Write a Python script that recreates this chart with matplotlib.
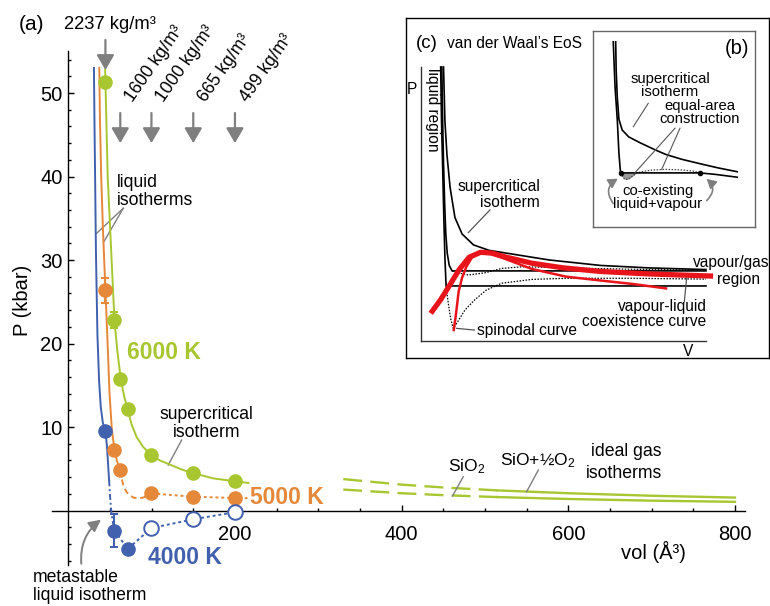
import numpy as np
import matplotlib.pyplot as plt
from matplotlib.patches import FancyArrowPatch

plt.rcParams['font.family'] = ['Liberation Sans', 'DejaVu Sans']
plt.rcParams['mathtext.fontset'] = 'custom'
plt.rcParams['mathtext.rm'] = 'Liberation Sans'
plt.rcParams['mathtext.it'] = 'Liberation Sans:italic'
plt.rcParams['mathtext.bf'] = 'Liberation Sans:bold'
plt.rcParams['mathtext.default'] = 'regular'

GREEN = '#A7C630'
ORANGE = '#E5883A'
BLUE = '#4160AD'
RED = '#E8141B'
GREY = '#7F7F7F'

#############################################################################
# data (a): simulation points, vol in A^3, P in kbar
#############################################################################
vol_6000 = [44.6, 55.4, 62.4, 71.3, 99.8, 150.0, 200.0]
P_6000 = [51.3, 22.8, 15.8, 12.1, 6.6, 4.5, 3.5]

vol_5000 = [44.6, 55.4, 62.4, 99.8, 150.0, 200.0]
P_5000 = [26.4, 7.3, 4.85, 2.05, 1.65, 1.5]

vol_4000 = [44.6, 55.4, 71.3]
P_4000 = [9.5, -2.4, -4.6]
vol_4000_open = [99.8, 150.0, 200.0]
P_4000_open = [-2.1, -1.05, -0.2]

# error bars (vol, P, err)
err_6000 = ([55.4], [22.8], [1.0])
err_5000 = ([44.6], [26.4], [1.5])
err_4000 = ([55.4], [-2.4], [2.0])

# fitted isotherms
green_v = [44.3, 44.6, 47.3, 52.0, 55.4, 58.8, 62.9, 67.0, 71.3, 76.0, 82.0,
           90.0, 99.8, 110.0, 122.0, 135.0, 148.8, 174.0, 200.0, 216.0]
green_p = [52.8, 51.3, 40.0, 30.0, 22.8, 19.2, 15.8, 13.7, 12.1, 10.3, 8.8,
           7.6, 6.6, 6.0, 5.5, 4.95, 4.5, 3.85, 3.5, 3.3]

orange_v = [37.2, 38.0, 39.5, 41.5, 43.3, 44.6, 46.0, 47.6, 49.5, 52.3, 55.4, 58.5, 62.4]
orange_p = [53.0, 47.0, 40.0, 34.0, 29.5, 26.4, 23.0, 19.0, 14.0, 9.7, 7.3, 5.9, 4.85]
orange_dash_v = [62.4, 64.0, 66.5, 70.0, 74.0, 78.0, 84.0, 90.0, 99.8]
orange_dash_p = [4.85, 3.85, 2.9, 2.2, 1.85, 1.55, 1.45, 1.55, 2.05]
orange_dot_v = [99.8, 150.0, 200.0, 216.0]
orange_dot_p = [2.05, 1.65, 1.5, 1.48]

blue_v = [30.8, 31.5, 32.2, 33.2, 35.0, 37.0, 39.0, 41.5, 44.6, 46.5, 49.0]
blue_p = [53.0, 46.0, 40.0, 31.0, 21.0, 15.5, 12.4, 10.5, 9.5, 7.6, 3.6]
blue_dash_v = [49.0, 50.5, 52.0, 55.4]
blue_dash_p = [3.6, 1.2, -0.5, -2.4]
blue_dot_v = [55.4, 71.3, 99.8, 150.0, 200.0]
blue_dot_p = [-2.4, -4.6, -2.1, -1.05, -0.2]

# ideal gas isotherms at 6000 K
ideal_v = [330, 400, 450, 515, 600, 700, 800]
ideal_SiO_O2 = [3.76, 3.1, 2.76, 2.41, 2.07, 1.77, 1.55]
ideal_SiO2 = [2.51, 2.07, 1.84, 1.61, 1.38, 1.18, 1.04]

densities = [2237, 1600, 1000, 665, 499]
density_vols = [44.6, 62.4, 99.8, 150.0, 200.0]

#############################################################################
# data (c) and (b): schematic curves, arbitrary V / P units
#############################################################################
c_super_v = [0.80, 0.85, 0.92, 1.03, 1.20, 1.45, 1.85, 2.4, 3.3, 4.5, 6.3, 8.0, 10.0]
c_super_p = [10.0, 8.0, 6.8, 5.6, 4.5, 3.9, 3.5, 3.3, 3.15, 2.95, 2.75, 2.66, 2.6]
c_mid_v = [0.74, 0.77, 0.80, 0.84, 0.88, 0.93, 1.0, 1.1, 10.0]
c_mid_p = [10.0, 8.0, 6.5, 5.0, 3.9, 3.2, 2.75, 2.55, 2.55]
c_low_v = [0.70, 0.73, 0.77, 0.81, 0.85, 0.89, 10.0]
c_low_p = [10.0, 8.0, 6.3, 4.5, 3.0, 2.0, 2.0]
c_loop_low_v = [0.89, 0.97, 1.05, 1.14, 1.3, 1.55, 1.9, 2.3, 2.84, 3.9, 5.1, 7.5, 10.0]
c_loop_low_p = [2.0, 1.35, 0.8, 0.45, 0.7, 1.12, 1.5, 1.85, 2.1, 2.24, 2.28, 2.28, 2.25]
c_loop_mid_v = [1.1, 1.3, 1.67, 2.25, 2.84, 3.54, 4.5, 6.0, 8.0, 10.0]
c_loop_mid_p = [2.55, 2.48, 2.40, 2.48, 2.64, 2.70, 2.68, 2.64, 2.60, 2.58]
binodal_v = [0.35, 0.7, 1.0, 1.35, 1.7, 2.1, 2.5, 3.0, 3.9, 5.0, 6.3, 8.0, 10.25]
binodal_p = [1.0, 1.5, 2.0, 2.6, 3.05, 3.23, 3.2, 3.05, 2.83, 2.66, 2.53, 2.44, 2.36]
spinodal_v = [1.16, 1.24, 1.33, 1.45, 1.6, 1.8, 2.05, 2.3, 2.8, 3.9, 5.1, 6.3, 7.45, 8.6]
spinodal_p = [0.39, 1.0, 1.8, 2.3, 2.7, 3.05, 3.22, 3.22, 3.05, 2.62, 2.34, 2.2, 2.07, 1.91]

b_super_v = [1.40, 1.43, 1.5, 1.6, 1.8, 2.2, 2.9, 3.8, 4.5, 5.5, 6.5, 7.7, 8.9]
b_super_p = [9.45, 8.0, 6.6, 5.5, 4.95, 4.6, 4.3, 3.95, 3.7, 3.45, 3.25, 3.02, 2.82]
b_sub_v = [1.25, 1.36, 1.5, 1.6, 1.70, 6.6, 7.6, 8.9]
b_sub_p = [9.45, 7.16, 5.46, 3.76, 2.76, 2.76, 2.68, 2.54]
b_loop_v = [1.70, 1.85, 2.0, 2.2, 2.45, 2.7, 3.1, 3.6, 4.5, 5.5, 6.2, 6.6]
b_loop_p = [2.76, 2.52, 2.42, 2.45, 2.6, 2.76, 2.84, 2.9, 2.94, 2.91, 2.85, 2.76]
b_coexist_v = [1.70, 6.6]
b_coexist_p = [2.76, 2.76]

#############################################################################
# main panel (a)
#############################################################################
fig = plt.figure(figsize=(7.7, 6.06), dpi=100)
ax = fig.add_axes([0.06701, 0.06799, 0.9005, 0.84744])
ax.set_xlim(-20, 812)
ax.set_ylim(-6.5, 55)
ax.spines['left'].set_position(('data', 0))
ax.spines['bottom'].set_position(('data', 0))
ax.spines['top'].set_visible(False)
ax.spines['right'].set_visible(False)
for s in ('left', 'bottom'):
    ax.spines[s].set_linewidth(1.0)

ax.set_xticks([200, 400, 600, 800])
ax.set_xticks([v for v in range(50, 800, 50) if v % 200], minor=True)
ax.set_yticks([10, 20, 30, 40, 50])
ax.set_yticks([v for v in range(-6, 55, 2) if v % 10], minor=True)
ax.tick_params(which='both', direction='in', width=1.0, labelsize=14.5)
ax.tick_params(which='major', length=4.5)
ax.tick_params(which='minor', length=2.5)
ax.tick_params(axis='x', pad=10.5)
ax.tick_params(axis='y', pad=4)

ax.text(702, -5.0, 'vol (Å³)', fontsize=14.5, ha='center', va='center')
ax.text(-0.0418, 0.5147, 'P (kbar)', fontsize=14.5, rotation=90,
        ha='center', va='center', transform=ax.transAxes)
fig.text(31 / 770, 1 - 25 / 606, '(a)', fontsize=15, ha='center', va='center')

# isotherm curves
lw = 1.4
ax.plot(green_v, green_p, color=GREEN, lw=lw, zorder=3)
ax.plot(orange_v, orange_p, color=ORANGE, lw=lw, zorder=3)
ax.plot(orange_dash_v, orange_dash_p, color=ORANGE, lw=lw, ls=(0, (3, 2)), zorder=3)
ax.plot(orange_dot_v, orange_dot_p, color=ORANGE, lw=lw, ls=(0, (1.5, 1.5)), zorder=3)
ax.plot(blue_v, blue_p, color=BLUE, lw=lw, zorder=3)
ax.plot(blue_dash_v, blue_dash_p, color=BLUE, lw=lw, ls=(0, (3, 1.5, 1, 1.5)), zorder=3)
ax.plot(blue_dot_v, blue_dot_p, color=BLUE, lw=lw, ls=(0, (1.5, 1.5)), zorder=3)

# ideal gas isotherms: dashed below 515, solid above
ax.plot(ideal_v[:4], ideal_SiO_O2[:4], color=GREEN, lw=1.7, ls=(0, (8, 3.5)))
ax.plot(ideal_v[:4], ideal_SiO2[:4], color=GREEN, lw=1.7, ls=(0, (8, 3.5)))
ax.plot(ideal_v[3:], ideal_SiO_O2[3:], color=GREEN, lw=1.7)
ax.plot(ideal_v[3:], ideal_SiO2[3:], color=GREEN, lw=1.7)

# error bars and points
for (ev, ep, ee), col in ((err_6000, GREEN), (err_5000, ORANGE), (err_4000, BLUE)):
    ax.errorbar(ev, ep, yerr=ee, fmt='none', ecolor=col, elinewidth=1.5,
                capsize=3, capthick=1.5, zorder=4)
ax.plot(vol_6000, P_6000, 'o', color=GREEN, ms=10.5, mec='none', zorder=5)
ax.plot(vol_5000, P_5000, 'o', color=ORANGE, ms=10.5, mec='none', zorder=5)
ax.plot(vol_4000, P_4000, 'o', color=BLUE, ms=10.5, mec='none', zorder=5)
ax.plot(vol_4000_open, P_4000_open, 'o', mfc='white', mec=BLUE, mew=1.4, ms=10.5, zorder=5)

# temperature labels
ax.text(70, 18.9, '6000 K', color=GREEN, fontsize=16.5, fontweight='bold', va='center')
ax.text(218, 1.6, '5000 K', color=ORANGE, fontsize=16.5, fontweight='bold', va='center')
ax.text(96, -5.6, '4000 K', color=BLUE, fontsize=16.5, fontweight='bold', va='center')

# density arrows
head = '-|>,head_length=0.65,head_width=0.38'
ax.annotate('', xy=(density_vols[0], 52.75), xytext=(density_vols[0], 56.35),
            arrowprops=dict(arrowstyle=head, color=GREY, lw=1.6, shrinkA=0, shrinkB=0,
                            mutation_scale=14), annotation_clip=False)
ax.text(50, 58.2, '%d kg/m³' % densities[0], fontsize=13.2, ha='center', va='center')
for v, d in zip(density_vols[1:], densities[1:]):
    ax.annotate('', xy=(v, 44.0), xytext=(v, 47.6),
                arrowprops=dict(arrowstyle=head, color=GREY, lw=1.6, shrinkA=0, shrinkB=0,
                                mutation_scale=14), annotation_clip=False)
    ax.text(v + 2.5, 48.6, '%d kg/m³' % d, fontsize=12.7, rotation=55,
            ha='left', va='bottom')

# annotations
fs = 12.7
ax.text(58, 38.2, 'liquid\nisotherms', fontsize=fs, ha='left', va='center', linespacing=1.05)
ax.plot([66, 34.1], [36.2, 33.2], color=GREY, lw=1)
ax.plot([66, 42.8], [36.2, 32.2], color=GREY, lw=1)
ax.text(165.5, 10.4, 'supercritical\nisotherm', fontsize=fs, ha='center', va='center',
        linespacing=1.05)
ax.plot([136, 120], [8.44, 5.45], color=GREY, lw=1)
ax.text(-42, -9.1, 'metastable\nliquid isotherm', fontsize=fs, ha='left', va='center',
        linespacing=1.05)
ax.add_patch(FancyArrowPatch((16, -6.7), (42, -0.9), connectionstyle='arc3,rad=-0.3',
                             arrowstyle='-|>,head_length=0.6,head_width=0.3',
                             mutation_scale=12, color=GREY, lw=1.4, clip_on=False))
ax.text(456, 5.3, 'SiO$_2$', fontsize=12.5, ha='left', va='center')
ax.plot([474, 461], [4.05, 1.74], color=GREY, lw=1)
ax.text(518, 6.0, 'SiO+½O$_2$', fontsize=12.5, ha='left', va='center')
ax.plot([564, 550], [4.85, 2.25], color=GREY, lw=1)
ax.text(712, 5.75, 'ideal gas\nisotherms', fontsize=fs, ha='right', va='center',
        linespacing=1.4)

#############################################################################
# inset (c): van der Waals schematic
#############################################################################
cbox = fig.add_axes([406 / 770, 1 - 358 / 606, 363 / 770, 340 / 606])
cbox.set_xticks([])
cbox.set_yticks([])
for s in cbox.spines.values():
    s.set_linewidth(1.0)

cax = fig.add_axes([420.7 / 770, 1 - 340.7 / 606, 285.3 / 770, 273.7 / 606])
cax.set_facecolor('none')
cax.set_xlim(0, 10)
cax.set_ylim(0, 10)
cax.set_xticks([])
cax.set_yticks([])
cax.spines['top'].set_visible(False)
cax.spines['right'].set_visible(False)
for s in ('left', 'bottom'):
    cax.spines[s].set_color('#333333')
    cax.spines[s].set_linewidth(1.0)

dot = (0, (1.2, 1.2))
cax.plot(c_loop_low_v, c_loop_low_p, color='k', lw=0.9, ls=dot, clip_on=False)
cax.plot(c_loop_mid_v, c_loop_mid_p, color='k', lw=0.9, ls=dot, clip_on=False)
cax.plot(c_low_v, c_low_p, color='k', lw=1.2, clip_on=False)
cax.plot(c_mid_v, c_mid_p, color='k', lw=1.2, clip_on=False)
cax.plot(c_super_v, c_super_p, color='k', lw=1.2, clip_on=False)
cax.plot(spinodal_v, spinodal_p, color=RED, lw=1.8, clip_on=False)
cax.plot(binodal_v, binodal_p, color=RED, lw=3.8, clip_on=False, solid_capstyle='butt')

cfs = 11.2
cax.text(-0.16, 10.87, '(c)', fontsize=13.5, ha='left', va='center')
cax.text(0.91, 10.87, 'van der Waal’s EoS', fontsize=cfs, ha='left', va='center')
cax.text(-0.32, 9.16, 'P', fontsize=cfs, ha='center', va='center')
cax.text(9.37, -0.38, 'V', fontsize=cfs, ha='center', va='center')
cax.text(0.41, 9.95, 'liquid region', fontsize=cfs, rotation=270, ha='center', va='top')
cax.text(4.18, 5.33, 'supercritical\nisotherm', fontsize=cfs, ha='right', va='center',
         linespacing=1.07)
cax.plot([2.43, 1.67], [4.78, 3.95], color='#555555', lw=0.9)
cax.text(9.55, 2.84, 'vapour/gas', fontsize=cfs, ha='left', va='center')
cax.text(10.39, 2.22, 'region', fontsize=cfs, ha='left', va='center')
cax.text(10.02, 0.96, 'vapour-liquid\ncoexistence curve', fontsize=cfs, ha='right',
         va='center', linespacing=1.0)
cax.plot([9.32, 9.24], [2.28, 1.42], color='#555555', lw=0.9, clip_on=False)
cax.text(1.96, 0.39, 'spinodal curve', fontsize=cfs, ha='left', va='center')
cax.plot([1.26, 1.88], [0.45, 0.39], color='#555555', lw=0.9)

#############################################################################
# inset (b): equal-area construction
#############################################################################
bax = fig.add_axes([593 / 770, 1 - 227 / 606, 162 / 770, 196 / 606])
bax.set_xlim(0, 10)
bax.set_ylim(0, 10)
bax.set_xticks([])
bax.set_yticks([])
for s in bax.spines.values():
    s.set_color('#666666')
    s.set_linewidth(1.0)

bax.fill_between(b_loop_v[:6], b_loop_p[:6], b_coexist_p[0], color='#999999', lw=0)
bax.plot(b_loop_v, b_loop_p, color='#444444', lw=0.9, ls=dot)
bax.plot(b_sub_v, b_sub_p, color='k', lw=1.2)
bax.plot(b_super_v, b_super_p, color='k', lw=1.2)
bax.plot(b_coexist_v, b_coexist_p, 'o', color='k', ms=3)

bfs = 10.7
bax.text(8.89, 9.13, '(b)', fontsize=14.5, ha='center', va='center')
bax.text(4.75, 7.22, 'supercritical\nisotherm', fontsize=bfs, ha='center', va='center',
         linespacing=0.95)
bax.plot([3.41, 2.49], [6.31, 5.12], color='#555555', lw=0.8)
bax.text(6.6, 5.84, 'equal-area\nconstruction', fontsize=bfs, ha='center', va='center',
         linespacing=0.95)
bax.plot([5.06, 2.59], [5.04, 2.77], color='#555555', lw=0.8)
bax.plot([5.37, 4.24], [5.04, 2.94], color='#555555', lw=0.8)
bax.text(3.99, 1.51, 'co-existing\nliquid+vapour', fontsize=bfs, ha='center', va='center',
         linespacing=0.95)
bax.add_patch(FancyArrowPatch((1.25, 1.2), (1.6, 2.5), connectionstyle='arc3,rad=-0.55',
                              arrowstyle='-|>,head_length=0.5,head_width=0.28',
                              mutation_scale=11, color=GREY, lw=1.2, shrinkA=0, shrinkB=1))
bax.add_patch(FancyArrowPatch((7.02, 1.35), (6.95, 2.5), connectionstyle='arc3,rad=0.55',
                              arrowstyle='-|>,head_length=0.5,head_width=0.28',
                              mutation_scale=11, color=GREY, lw=1.2, shrinkA=0, shrinkB=1))

fig.savefig('out.png', dpi=100)
